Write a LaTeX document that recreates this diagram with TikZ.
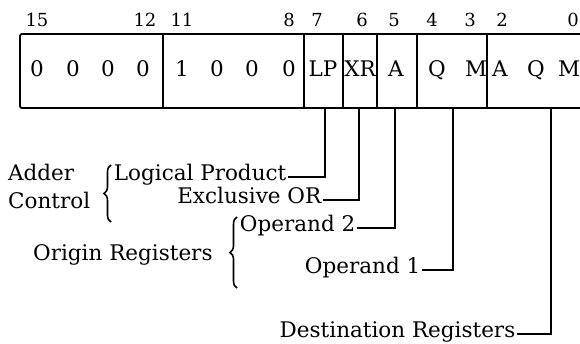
\documentclass[tikz,border=0pt]{standalone}
\usepackage{fontspec}
\setmainfont{DejaVu Serif}
\usepackage{tikz}
\usetikzlibrary{decorations.pathreplacing}

\begin{document}
\begin{tikzpicture}[
  x=1pt, y=-1pt,
  bitno/.style={font=\fontsize{18}{21}\selectfont, inner sep=0pt},
  bit/.style={font=\fontsize{21.5}{25}\selectfont, inner sep=0pt, text height=0.85em, text depth=0.25em},
  lbl/.style={bit, anchor=east, inner sep=1.5pt},
  grp/.style={font=\fontsize{21.5}{25}\selectfont, inner sep=0pt, anchor=base west},
  frame/.style={line width=1.8pt},
  lead/.style={line width=1.5pt},
  brc/.style={decorate, decoration={brace, amplitude=7pt}, line width=1.6pt}
]
  \useasboundingbox (0,0) rectangle (580,343);

  % instruction word, open at the right
  \draw[frame, rounded corners=2pt] (580,34) -- (20,34) -- (20,108) -- (580,108);
  \foreach \x in {163,304,343,377,417,487}
    \draw[frame] (\x,34) -- (\x,108);

  % bit numbers
  \foreach \n/\x in {15/37,12/145,11/182,8/289,7/317,6/362,5/394,4/432,3/470,2/502,0/573}
    \node[bitno] (n\n) at (\x,20) {\n};

  % field contents
  \foreach \t/\x [count=\i] in {0/37,0/73,0/108,0/143,1/182,0/217,0/252,0/289,LP/323,XR/360,A/396,Q/437,M/476,A/500,Q/536,M/569}
    \node[bit] (c\i) at (\x,73) {\t};

  \coordinate (tLP)  at (325,108);
  \coordinate (tXR)  at (359,108);
  \coordinate (tA)   at (395,108);
  \coordinate (tQM)  at (453,108);
  \coordinate (tAQM) at (551,108);

  \node[lbl] (logprod) at (288,177) {Logical Product};
  \node[lbl] (exor)    at (323,200) {Exclusive OR};
  \node[lbl] (op2)     at (357,228) {Operand 2};
  \node[lbl] (op1)     at (422,270) {Operand 1};
  \node[lbl] (dest)    at (517,334) {Destination Registers};

  \node[grp] (adder)   at (8,180) {Adder};
  \node[grp] (control) at (8,208) {Control};
  \node[grp] (origin)  at (33,260) {Origin Registers};

  \draw[brc] (111,222) -- (111,165);
  \draw[brc] (237,288) -- (237,217);

  \draw[lead] (tLP)  |- (logprod.east);
  \draw[lead] (tXR)  |- (exor.east);
  \draw[lead] (tA)   |- (op2.east);
  \draw[lead] (tQM)  |- (op1.east);
  \draw[lead] (tAQM) |- (dest.east);
\end{tikzpicture}
\end{document}
